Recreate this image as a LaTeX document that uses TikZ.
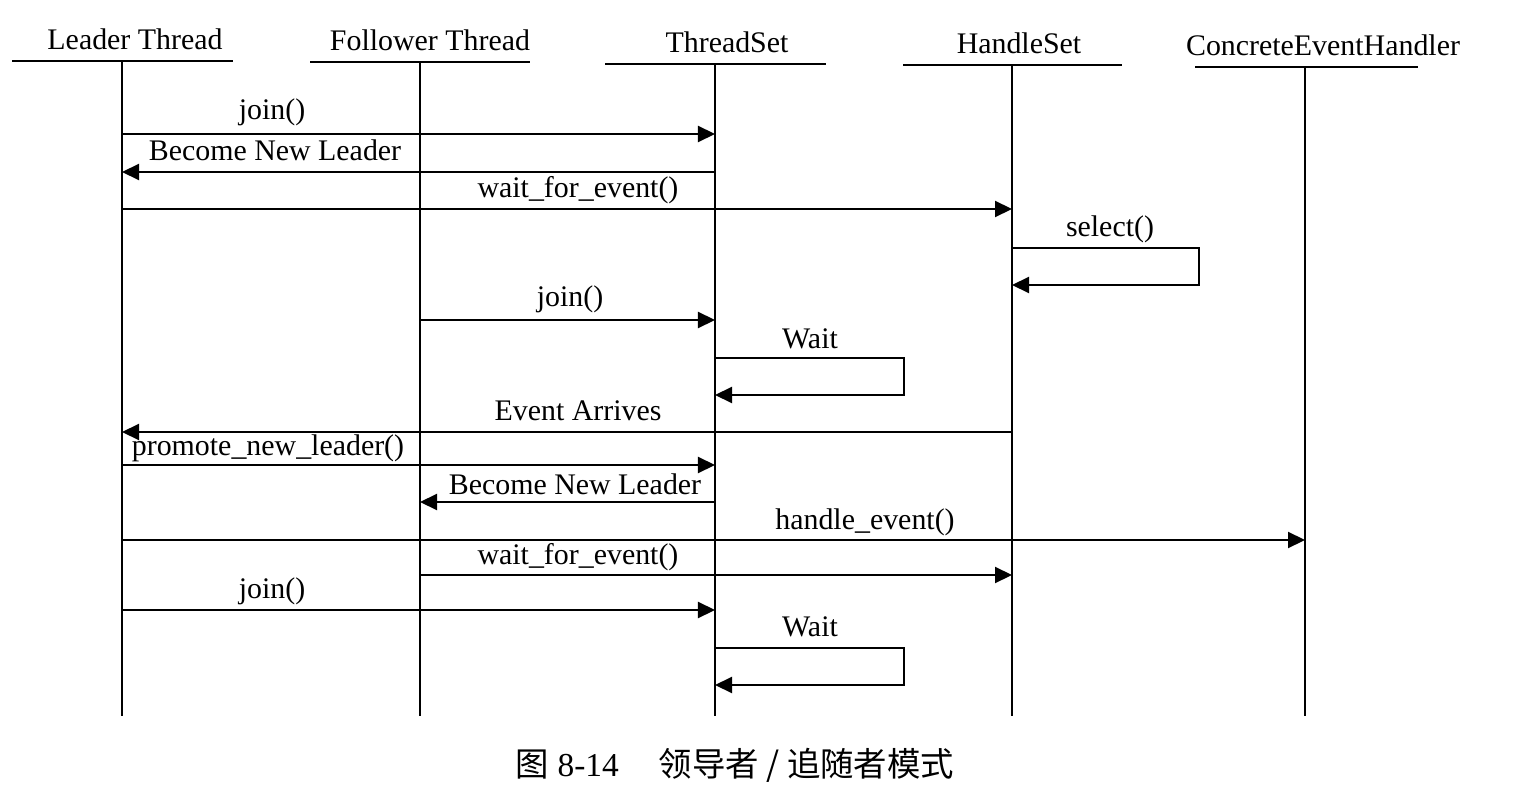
\documentclass[tikz,border=0pt]{standalone}
\usepackage{fontspec}
\setmainfont{Liberation Serif}
\newfontfamily\cjk{Noto Sans CJK SC}
\usetikzlibrary{arrows.meta}

\tikzset{
  txt/.style={font=\fontsize{8.5}{10}\selectfont, inner sep=0pt, anchor=base},
  life/.style={line width=0.6pt},
  msg/.style={line width=0.6pt, -{Triangle[length=1.7mm,width=1.6mm]}},
}

\begin{document}
\begin{tikzpicture}[x=0.01cm, y=-0.01cm]
  \useasboundingbox (0,0) rectangle (1518,794);
  % objects: name / lifeline x / head y / line from / line to / label x / label
  \foreach \n/\x/\y/\a/\b/\lx/\t in {
      lead/122/61/12/233/135/Leader Thread,
      foll/420/62/310/530/430/Follower Thread,
      tset/715/64/605/826/727/ThreadSet,
      hset/1012/65/903/1122/1019/HandleSet,
      ceh/1305/67/1195/1418/1323/ConcreteEventHandler} {
    \node[txt] (\n-name) at (\lx,\y-11) {\t};
    \coordinate (\n) at (\x,\y);
    \coordinate (\n-end) at (\x,716);
    \draw[life] (\a,\y) -- (\b,\y);
    \draw[life] (\n) -- (\n-end);
  }

  \draw[msg] (lead |- 0,134) -- (tset |- 0,134);
  \node[txt] (m1) at (272,120) {join()};
  \draw[msg] (tset |- 0,172) -- (lead |- 0,172);
  \node[txt] (m2) at (275,161) {Become New Leader};
  \draw[msg] (lead |- 0,209) -- (hset |- 0,209);
  \node[txt] (m3) at (578,198) {wait\_for\_event()};
  \draw[msg] (hset |- 0,248) -- ++(187,0) |- (hset |- 0,285);
  \node[txt] (m4) at (1110,236) {select()};
  \draw[msg] (foll |- 0,320) -- (tset |- 0,320);
  \node[txt] (m5) at (570,307) {join()};
  \draw[msg] (tset |- 0,358) -- ++(189,0) |- (tset |- 0,395);
  \node[txt] (m6) at (810,348) {Wait};
  \draw[msg] (hset |- 0,432) -- (lead |- 0,432);
  \node[txt] (m7) at (578,420) {Event Arrives};
  \draw[msg] (lead |- 0,465) -- (tset |- 0,465);
  \node[txt] (m8) at (268,455) {promote\_new\_leader()};
  \draw[msg] (tset |- 0,502) -- (foll |- 0,502);
  \node[txt] (m9) at (575,494) {Become New Leader};
  \draw[msg] (lead |- 0,540) -- (ceh |- 0,540);
  \node[txt] (m10) at (865,529) {handle\_event()};
  \draw[msg] (foll |- 0,575) -- (hset |- 0,575);
  \node[txt] (m11) at (578,564) {wait\_for\_event()};
  \draw[msg] (lead |- 0,610) -- (tset |- 0,610);
  \node[txt] (m12) at (272,598) {join()};
  \draw[msg] (tset |- 0,648) -- ++(189,0) |- (tset |- 0,685);
  \node[txt] (m13) at (810,636) {Wait};

  \node[anchor=base, inner sep=0pt, font=\fontsize{9.5}{11}\selectfont] (cap) at (735,776)
    {{\cjk 图} 8-14\hspace{1.2em}{\cjk 领导者 / 追随者模式}};
\end{tikzpicture}
\end{document}
